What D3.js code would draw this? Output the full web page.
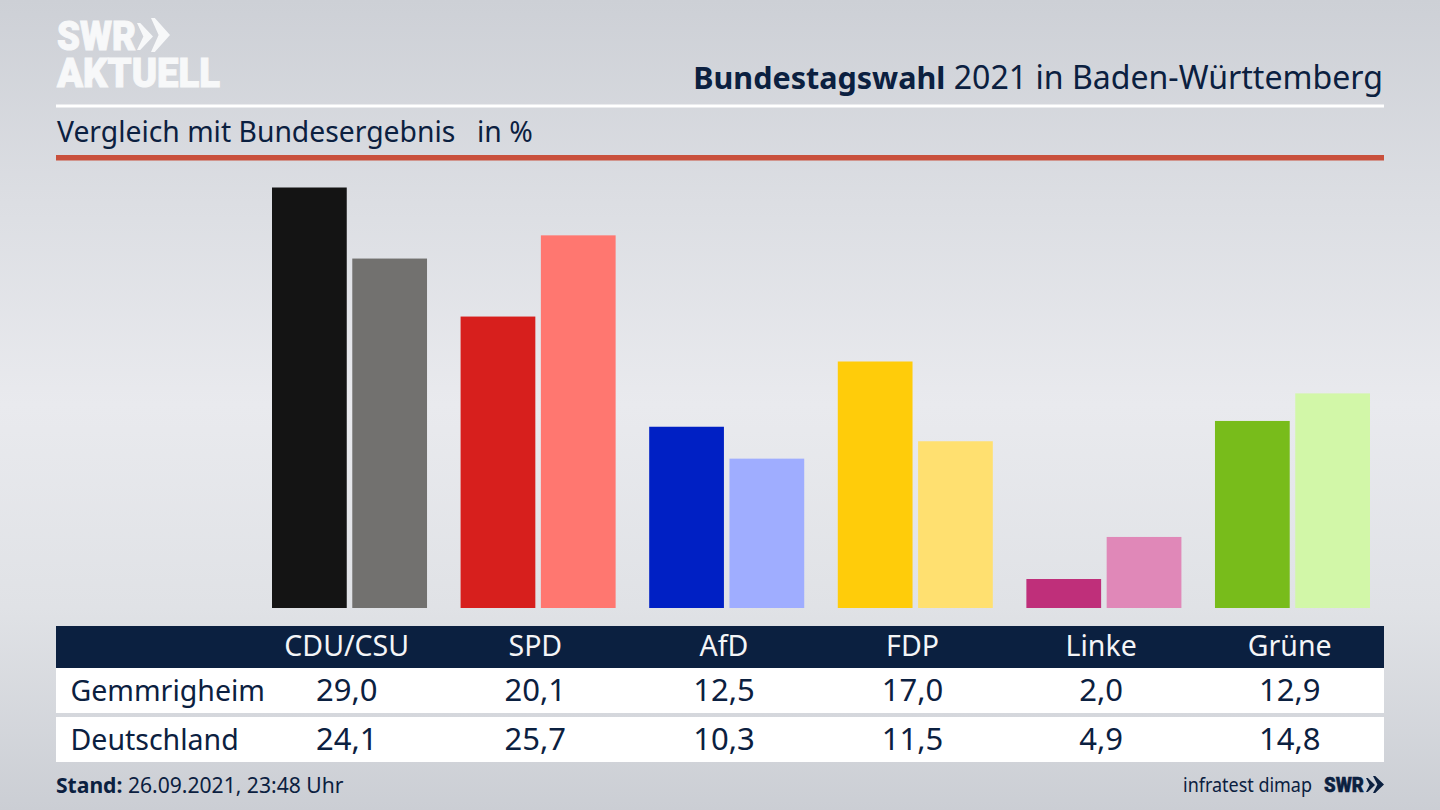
<!DOCTYPE html>
<html><head><meta charset="utf-8">
<script src="https://cdn.jsdelivr.net/npm/d3@7"></script>
<style>html,body{margin:0;padding:0;background:#d5d7dd;overflow:hidden}svg{display:block}text{font-family:"Noto Sans",sans-serif}</style>
</head><body><svg id="c" width="1440" height="810"></svg>
<script>
const parties=["CDU/CSU","SPD","AfD","FDP","Linke","Grüne"];
const rows=["Gemmrigheim","Deutschland"];
const gemmrigheim=[29.0,20.1,12.5,17.0,2.0,12.9];
const deutschland=[24.1,25.7,10.3,11.5,4.9,14.8];
const colorsA=["#141414","#d71f1d","#0020c4","#ffcc0a","#bf2f7a","#78bc1b"];
const colorsB=["#72716f","#ff7770","#9fadff","#ffe070","#e088b8","#d2f7a8"];
const navy="#0b2040";
const fmt=v=>v.toFixed(1).replace(".",",");

const svg=d3.select("#c");
const defs=svg.append("defs");
const g=defs.append("linearGradient").attr("id","bg").attr("x1",0).attr("y1",0).attr("x2",0).attr("y2",1);
[[0,"#cdd0d6"],[0.25,"#dcdee3"],[0.5,"#e9eaee"],[0.75,"#e0e2e6"],[1,"#cbced4"]].forEach(s=>g.append("stop").attr("offset",s[0]).attr("stop-color",s[1]));
svg.append("rect").attr("width",1440).attr("height",810).attr("fill","url(#bg)");

// scales
const x=d3.scaleBand().domain(parties).range([272,1370]).paddingInner(0.178).paddingOuter(0);
const inner=d3.scaleBand().domain([0,1]).range([0,x.bandwidth()]).paddingInner(0.069).paddingOuter(0);
const y=d3.scaleLinear().domain([0,29]).range([608,187.5]);

// header
const chevron=(sel,a,b,y0,y1,fill)=>sel.append("path").attr("fill",fill)
  .attr("d",d3.line()([[a,y0],[a+(b-a)*0.2,y0],[b,(y0+y1)/2],[a+(b-a)*0.2,y1],[a,y1],[a+(b-a)*0.4,(y0+y1)/2]])+"Z");
const logo=svg.append("g").attr("fill","#f7f8f9");
const logoText=(s,yy,len)=>logo.append("text").attr("x",57).attr("y",yy).attr("font-size",41).attr("font-weight",900)
  .attr("textLength",len).attr("lengthAdjust","spacingAndGlyphs").style("font-family","Roboto")
  .attr("stroke","#f7f8f9").attr("stroke-width",1).text(s);
logoText("SWR",50,79);
logoText("AKTUELL",87,163);
chevron(logo,137,153,23,50,"#f7f8f9");
chevron(logo,151,170,18,52,"#f7f8f9");

const title=svg.append("text").attr("x",1383).attr("y",89).attr("text-anchor","end").attr("fill",navy);
title.append("tspan").attr("font-weight",700).attr("font-size",30.5).text("Bundestagswahl");
title.append("tspan").attr("font-size",32.1).text(" 2021 in Baden-Württemberg");
svg.append("rect").attr("x",56).attr("y",104.5).attr("width",1328).attr("height",3).attr("fill","#fff");
svg.append("text").attr("x",57).attr("y",142).attr("font-size",28.3).attr("fill",navy).text("Vergleich mit Bundesergebnis");
svg.append("text").attr("x",477).attr("y",142).attr("font-size",28.3).attr("fill",navy).text("in %");
svg.append("rect").attr("x",56).attr("y",155).attr("width",1328).attr("height",5.5).attr("fill","#c9503c");

// bars
[gemmrigheim,deutschland].forEach((vals,s)=>{
  svg.append("g").selectAll("rect").data(parties).join("rect")
    .attr("x",p=>x(p)+inner(s)).attr("width",inner.bandwidth())
    .attr("y",(p,i)=>y(vals[i])).attr("height",(p,i)=>y(0)-y(vals[i]))
    .attr("fill",(p,i)=>(s?colorsB:colorsA)[i]);
});

// table
svg.append("rect").attr("x",56).attr("y",626).attr("width",1328).attr("height",42).attr("fill",navy);
svg.append("rect").attr("x",56).attr("y",668).attr("width",1328).attr("height",45).attr("fill","#fff");
svg.append("rect").attr("x",56).attr("y",717).attr("width",1328).attr("height",45).attr("fill","#fff");
const center=p=>x(p)+inner.bandwidth();
svg.append("g").selectAll("text").data(parties).join("text").attr("x",center).attr("y",656).attr("text-anchor","middle").attr("font-size",28.5).attr("fill","#f4f5f7").text(d=>d);
[gemmrigheim,deutschland].forEach((vals,s)=>{
  const yy=s?750:701;
  svg.append("text").attr("x",70.5).attr("y",yy).attr("font-size",28.5).attr("fill",navy).text(rows[s]);
  svg.append("g").selectAll("text").data(parties).join("text").attr("x",center).attr("y",yy).attr("text-anchor","middle").attr("font-size",31).attr("fill",navy).text((p,i)=>fmt(vals[i]));
});

// footer
const st=svg.append("text").attr("x",56).attr("y",793).attr("font-size",21.1).attr("fill",navy);
st.append("tspan").attr("font-weight",700).text("Stand:");
st.append("tspan").text(" 26.09.2021, 23:48 Uhr");
svg.append("text").attr("x",1183).attr("y",792).attr("font-size",19.5).attr("fill",navy).attr("textLength",129).attr("lengthAdjust","spacingAndGlyphs").text("infratest dimap");
svg.append("text").attr("x",1324).attr("y",792).attr("font-size",21).attr("font-weight",900).attr("fill",navy).attr("stroke",navy).attr("stroke-width",0.5).attr("textLength",40).attr("lengthAdjust","spacingAndGlyphs").style("font-family","Roboto").text("SWR");
chevron(svg,1366,1375,778,792,navy);
chevron(svg,1373,1384,776,793,navy);
</script></body></html>
